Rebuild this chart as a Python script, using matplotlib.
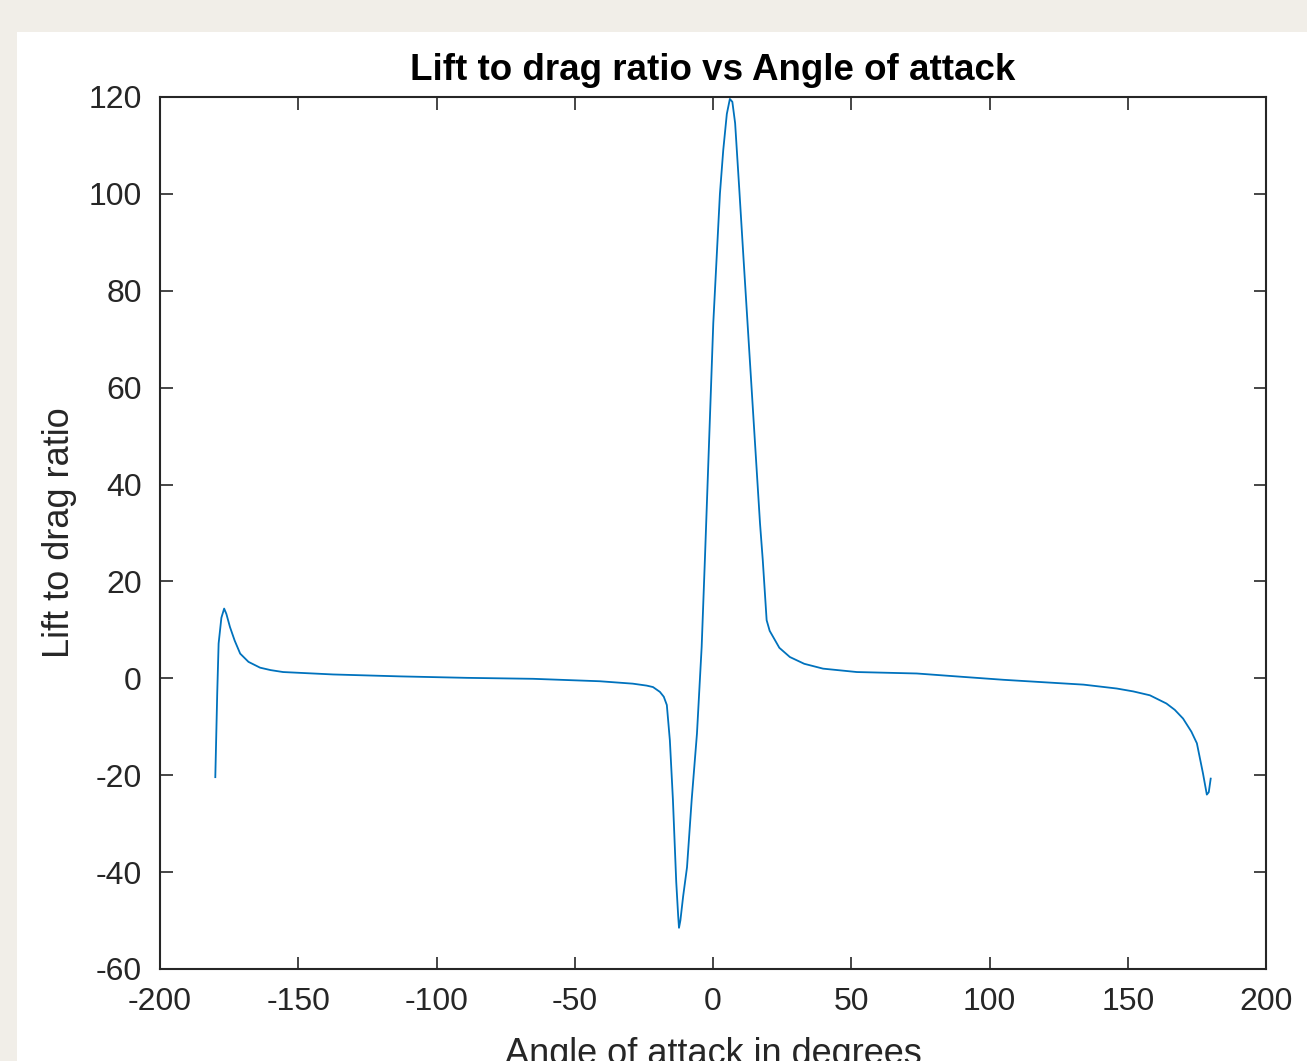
import numpy as np
import matplotlib.pyplot as plt
from matplotlib.patches import Rectangle

plt.rcParams['font.family'] = ['Liberation Sans', 'DejaVu Sans']
plt.rcParams['axes.unicode_minus'] = False

# angle of attack (deg) and lift/drag ratio
angle = [-180, -179.3, -178.8, -177.8, -176.8, -176, -174.7, -173, -171, -168,
         -163.8, -160, -155.5, -137.4, -113, -89, -65, -41, -29, -24, -21.7,
         -19.2, -17.8, -16.7, -15.6, -14.5, -13.3, -12.6, -12.3, -11.8, -10.8,
         -9.4, -7.7, -5.8, -4.1, -2.9, 0.1, 2.5, 3.7, 5.0, 6.1, 7.0, 8, 9.5,
         11, 14, 17, 18, 19.4, 20.5, 21.8, 24, 27.8, 33, 39.8, 52, 73.7, 90.4,
         105, 119.4, 134, 146, 152, 158, 164, 167, 170, 173, 175, 177.2, 178.6,
         179.3, 180]
lift_drag = [-20.4, -3, 7.2, 12.5, 14.4, 13.3, 10.6, 7.8, 5.1, 3.4,
             2.2, 1.7, 1.3, 0.8, 0.4, 0.1, -0.1, -0.6, -1.1, -1.5, -1.8,
             -2.8, -3.8, -5.5, -12.8, -25, -42, -49, -51.5, -50, -45,
             -39, -25, -11.4, 6.5, 25, 73.3, 100, 109, 116.5, 119.6, 119, 114.6, 101,
             87, 59.5, 32, 24.4, 12, 9.8, 8.5, 6.3, 4.4, 3.0, 2.0, 1.3, 1.0, 0.3,
             -0.3, -0.8, -1.3, -2.1, -2.7, -3.5, -5.2, -6.5, -8.3, -11, -13.4, -19.6, -24,
             -23.5, -20.7]

xticks = np.arange(-200, 201, 50)
yticks = np.arange(-60, 121, 20)

W, H = 1307, 1061
fig = plt.figure(figsize=(W / 100, H / 100), dpi=100)
fig.patch.set_facecolor('#f1eee8')
# white figure panel (MATLAB window area)
fig.patches.append(Rectangle((17 / W, 0), 1, 1 - 32 / H, transform=fig.transFigure,
                             facecolor='white', edgecolor='none', zorder=-1))

ax = fig.add_axes([160 / W, 1 - 969 / H, (1266 - 160) / W, (969 - 97) / H])
ax.plot(angle, lift_drag, color='#0072BD', lw=1.3)

ax.set_xlim(-200, 200)
ax.set_ylim(-60, 120)
ax.set_xticks(xticks)
ax.set_yticks(yticks)
ax.tick_params(direction='in', length=9, width=1.2, colors='#262626',
               labelsize=23, top=True, right=True, pad=13)
for s in ax.spines.values():
    s.set_color('#262626')
    s.set_linewidth(1.5)

ax.set_title('Lift to drag ratio vs Angle of attack', fontsize=26.5,
             fontweight='bold', pad=12)
ax.set_xlabel('Angle of attack in degrees', fontsize=26, color='#262626', labelpad=14)
ax.set_ylabel('Lift to drag ratio', fontsize=26, color='#262626', labelpad=8)

plt.savefig('out.png', dpi=100, facecolor=fig.get_facecolor())
